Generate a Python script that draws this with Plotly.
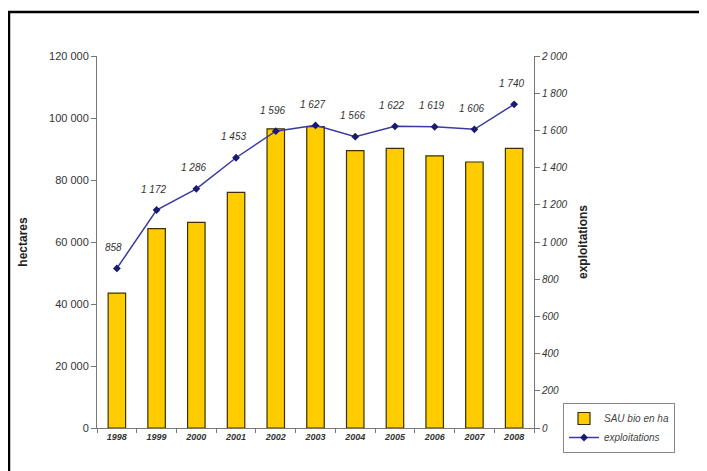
import plotly.graph_objects as go

years = ["1998", "1999", "2000", "2001", "2002", "2003", "2004", "2005", "2006", "2007", "2008"]
sau_ha = [43500, 64300, 66300, 76000, 96500, 97200, 89500, 90200, 87800, 85800, 90200]
exploitations = [858, 1172, 1286, 1453, 1596, 1627, 1566, 1622, 1619, 1606, 1740]
y1_ticks = [0, 20000, 40000, 60000, 80000, 100000, 120000]
y2_ticks = [0, 200, 400, 600, 800, 1000, 1200, 1400, 1600, 1800, 2000]

def fmt(v):
    return f"{v:,}".replace(",", " ")

FONT = "Liberation Sans, Arial, sans-serif"

# plot area in figure pixels
L, T, R, B = 89, 48, 526, 420
W, H = 707, 471
PW, PH = R - L, B - T

fig = go.Figure()
fig.add_trace(go.Bar(
    x=years, y=sau_ha, name="SAU bio en ha",
    marker=dict(color="#FFCC00", line=dict(color="#3a3000", width=1.2)),
    width=0.44,
))
fig.add_trace(go.Scatter(
    x=years, y=exploitations, name="exploitations", yaxis="y2",
    mode="lines+markers",
    line=dict(color="#3a3aa0", width=1.5),
    marker=dict(color="#1a1a70", size=6, symbol="diamond"),
))

for i, v in enumerate(exploitations):
    fig.add_annotation(
        x=i, y=v, xref="x", yref="y2", text=fmt(v), showarrow=False,
        xshift=-3, yshift=21,
        font=dict(family=FONT, size=10, color="#333", style="italic"),
    )

fig.add_shape(type="rect", xref="paper", yref="paper",
              x0=(1 - L) / PW, x1=(694 - L) / PW,
              y0=(B - 490) / PH, y1=(B - 4) / PH,
              line=dict(color="black", width=2.5), layer="below")

fig.update_layout(
    width=W, height=H,
    margin=dict(l=L, r=W - R, t=T, b=H - B),
    paper_bgcolor="white", plot_bgcolor="white",
    showlegend=True,
    xaxis=dict(
        type="category", range=[-0.5, len(years) - 0.5], autorange=False,
        showline=True, linecolor="#777", linewidth=1,
        ticks="outside", ticklen=4, tickcolor="#777", tickson="boundaries",
        tickfont=dict(family=FONT, size=9, color="#333", weight="bold", style="italic"),
        showgrid=False,
    ),
    yaxis=dict(
        range=[0, 120000], tickvals=y1_ticks, ticktext=[fmt(v) for v in y1_ticks],
        showline=True, linecolor="#777", linewidth=1, ticks="outside", ticklen=5,
        tickcolor="#777", showgrid=False, zeroline=False,
        tickfont=dict(family=FONT, size=11, color="#333"),
        title=dict(text="<b>hectares</b>", font=dict(family=FONT, size=12, color="#222"), standoff=18),
    ),
    yaxis2=dict(
        range=[0, 2000], tickvals=y2_ticks, ticktext=[fmt(v) for v in y2_ticks],
        overlaying="y", side="right",
        showline=True, linecolor="#777", linewidth=1, ticks="outside", ticklen=5,
        tickcolor="#777", showgrid=False, zeroline=False,
        tickfont=dict(family=FONT, size=10, color="#333", style="italic"),
        title=dict(text="<b>exploitations</b>", font=dict(family=FONT, size=12, color="#222"), standoff=12),
    ),
    legend=dict(
        x=(555 - L) / PW, y=(B - 395) / PH, xanchor="left", yanchor="top",
        bordercolor="#888", borderwidth=1, bgcolor="white",
        font=dict(family=FONT, size=10, color="#444", style="italic"),
        tracegroupgap=8, entrywidth=105,
    ),
)

fig.write_html("out.html")
